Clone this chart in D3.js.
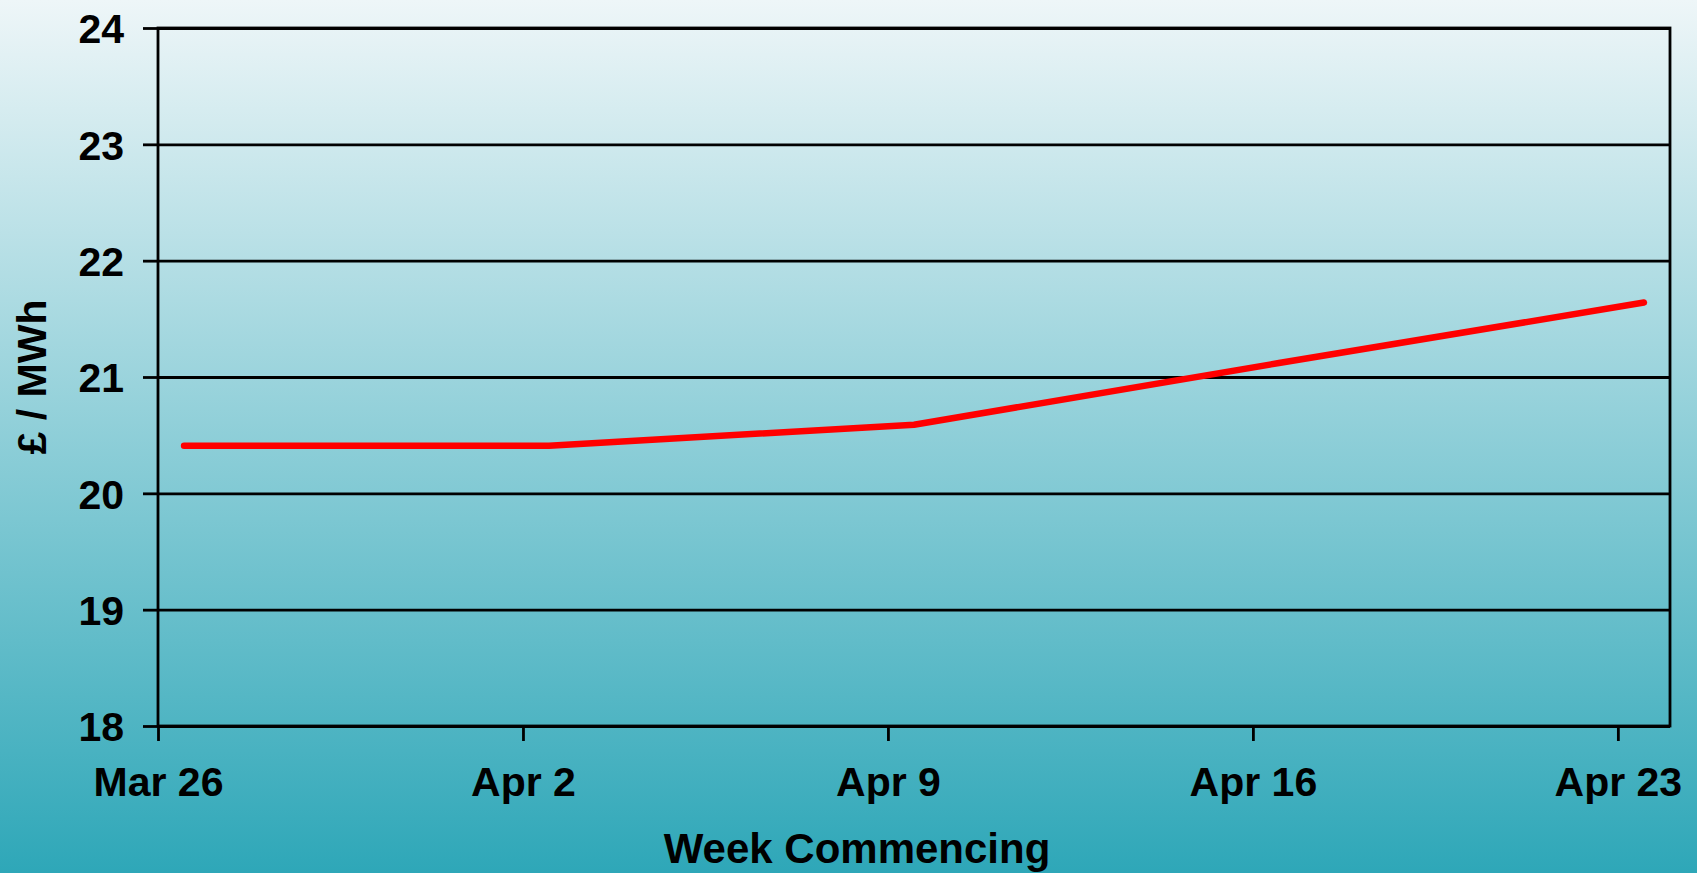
<!DOCTYPE html>
<html>
<head>
<meta charset="utf-8">
<script src="https://cdn.jsdelivr.net/npm/d3@7/dist/d3.min.js"></script>
<style>
  html, body { margin: 0; padding: 0; overflow: hidden; }
  svg { display: block; }
  text { font-family: "Liberation Sans", Arial, sans-serif; font-weight: bold; fill: #000; }
</style>
</head>
<body>
<svg id="chart" width="1697" height="873"></svg>
<script>
// Weekly forward price, £/MWh
const weekStarts = ["2007-03-26", "2007-04-02", "2007-04-09", "2007-04-16", "2007-04-23"];
const weekLabels = ["Mar 26", "Apr 2", "Apr 9", "Apr 16", "Apr 23"];
const prices = [20.41, 20.41, 20.59, 21.12, 21.64];
const yTicks = [18, 19, 20, 21, 22, 23, 24];
const axisStart = "2007-03-26";
const axisEnd = "2007-04-24";

const W = 1697, H = 873;
const margin = { top: 28, right: 27, bottom: 147, left: 158 };
const iw = W - margin.left - margin.right;
const ih = H - margin.top - margin.bottom;

const svg = d3.select("#chart");

// background gradient
const defs = svg.append("defs");
const grad = defs.append("linearGradient")
  .attr("id", "bg").attr("x1", 0).attr("y1", 0).attr("x2", 0).attr("y2", 1);
grad.append("stop").attr("offset", "0%").attr("stop-color", "#eef6f8");
grad.append("stop").attr("offset", "100%").attr("stop-color", "#2ea7b8");
svg.append("rect").attr("width", W).attr("height", H).attr("fill", "url(#bg)");

const parse = d3.utcParse("%Y-%m-%d");
const dates = weekStarts.map(parse);

const x = d3.scaleUtc().domain([parse(axisStart), parse(axisEnd)]).range([0, iw]);
const y = d3.scaleLinear().domain([d3.min(yTicks), d3.max(yTicks)]).range([ih, 0]);

const g = svg.append("g").attr("transform", `translate(${margin.left},${margin.top})`);

// horizontal gridlines
g.append("g")
  .call(d3.axisLeft(y).tickValues(yTicks).tickSize(-iw).tickFormat(""))
  .call(s => s.select(".domain").remove())
  .call(s => s.selectAll("line").attr("stroke", "#000").attr("stroke-width", 2.8));

// plot border
g.append("rect")
  .attr("width", iw).attr("height", ih)
  .attr("fill", "none").attr("stroke", "#000").attr("stroke-width", 2.8);

// y axis
g.append("g")
  .call(d3.axisLeft(y).tickValues(yTicks).tickSize(15).tickPadding(19).tickFormat(d3.format("d")))
  .call(s => s.select(".domain").remove())
  .call(s => s.selectAll("line").attr("stroke", "#000").attr("stroke-width", 2.8))
  .call(s => s.selectAll("text")
    .attr("font-size", 41).attr("font-family", "Liberation Sans, Arial, sans-serif")
    .attr("font-weight", "bold").attr("dy", "0.36em"));

// x axis (weekly ticks)
g.append("g")
  .attr("transform", `translate(0,${ih})`)
  .call(d3.axisBottom(x).tickValues(dates).tickSize(15)
    .tickFormat((d, i) => weekLabels[i]))
  .call(s => s.select(".domain").remove())
  .call(s => s.selectAll("line").attr("stroke", "#000").attr("stroke-width", 2.8))
  .call(s => s.selectAll("text")
    .attr("font-size", 41).attr("font-family", "Liberation Sans, Arial, sans-serif")
    .attr("font-weight", "bold").attr("y", 70).attr("dy", 0));

// price line, each week plotted mid-day
const halfDay = 12 * 3600 * 1000;
const line = d3.line()
  .x((d, i) => x(new Date(dates[i].getTime() + halfDay)))
  .y(d => y(d));
g.append("path")
  .datum(prices)
  .attr("d", line)
  .attr("fill", "none")
  .attr("stroke", "#ff0000")
  .attr("stroke-width", 6.5)
  .attr("stroke-linecap", "round")
  .attr("stroke-linejoin", "round");

// axis titles
svg.append("text")
  .attr("transform", `translate(${46},${margin.top + ih / 2}) rotate(-90)`)
  .attr("text-anchor", "middle")
  .attr("font-size", 41)
  .text("£ / MWh");

svg.append("text")
  .attr("x", 857).attr("y", 863)
  .attr("text-anchor", "middle")
  .attr("font-size", 42)
  .text("Week Commencing");
</script>
</body>
</html>
